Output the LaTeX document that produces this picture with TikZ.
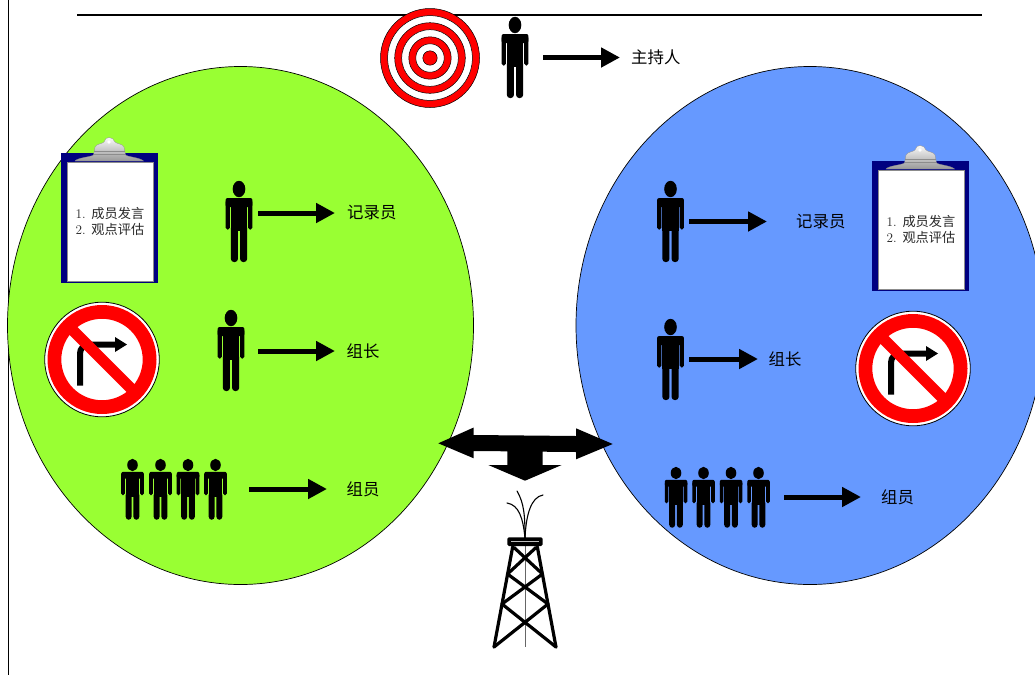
\documentclass[tikz,border=0pt]{standalone}
\usepackage{fontspec}
\newfontfamily\cjk{Noto Sans CJK SC}
\usetikzlibrary{arrows.meta,calc}
\definecolor{leafgreen}{HTML}{99FF33}
\definecolor{skyblue}{HTML}{6699FF}
\definecolor{boardnavy}{HTML}{000080}
\tikzset{
  x=1pt,y=-1pt,
  bigcircle/.style={draw=black,line width=.7pt},
  blockarrow/.style={draw=black,line width=5pt,-{Triangle[length=19pt,width=19pt]}},
  rolelabel/.style={font=\cjk\fontsize{16.4}{18}\selectfont,inner sep=0pt,anchor=west},
  boardtext/.style={font=\fontsize{13.2}{16}\selectfont,align=left,text=black!85,inner sep=0pt},
  holder/.style={inner sep=0pt,minimum height=20pt},
  person/.pic={
    \fill[black] (0,8) ellipse [x radius=6.3,y radius=8.2];
    \fill[black,rounded corners=2pt] (-13.4,17) rectangle (13.4,26);
    \fill[black,rounded corners=1.8pt] (-13.4,19) rectangle (-9.2,48.5);
    \fill[black,rounded corners=1.8pt] (9.2,19) rectangle (13.4,48.5);
    \fill[black] (-8.1,17) rectangle (8.1,50);
    \fill[black,rounded corners=3pt] (-8.1,44) rectangle (-1.1,81);
    \fill[black,rounded corners=3pt] (1.1,44) rectangle (8.1,81);
  },
  clipboard/.pic={
    \fill[boardnavy] (0,0) rectangle (97,130);
    \fill[white,draw=black!45,line width=.3pt] (6.5,9.5) rectangle (92.5,128);
    \shadedraw[top color=white,bottom color=black!40,draw=black!45,line width=.3pt]
      (14,8) .. controls (17,4.5) and (30,4) .. (32.5,2)
      -- (34,-6) .. controls (36,-9.5) and (41,-9) .. (43,-11)
      .. controls (44,-17) and (52,-17) .. (54,-11)
      .. controls (56,-9) and (61,-9.5) .. (63,-6)
      -- (64.5,2) .. controls (67,4) and (79,4.5) .. (82.5,8) -- cycle;
    \fill[white] (48,-11) circle (1.8);
    \fill[black!45] (33,-2.5) rectangle (64,-1);
    \fill[black!45] (33,1) rectangle (64,2.2);
  },
  nosign/.pic={
    \fill[white,draw=black,line width=.8pt] (0,0) circle (57.3);
    \fill[red,even odd rule] (0,0) circle (54.5) (0,0) circle (40.7);
    \draw[black,line width=6pt,rounded corners=9pt] (-22,26) -- (-22,-15) -- (14,-15);
    \fill[black] (13,-22.5) -- (25,-15) -- (13,-7.5) -- cycle;
    \draw[red,line width=11pt] (-33,-33) -- (33,33);
  },
}
\begin{document}
\begin{tikzpicture}
\useasboundingbox (0,0) rectangle (1035,675);
\clip (0,0) rectangle (1035,675);
% frame lines
\coordinate (vtop) at (8,0);
\coordinate (vbot) at (8,675);
\coordinate (htop) at (77,15);
\coordinate (hend) at (982,15);
\draw[black,line width=.7pt] (vtop) -- (vbot);
\draw[black,line width=1.1pt] (htop) -- (hend);
% discussion groups
\fill[leafgreen,bigcircle] (240.5,325.5) ellipse [x radius=233,y radius=259];
\fill[skyblue,bigcircle] (810,325.5) ellipse [x radius=234,y radius=259];
% target
\foreach \r/\c in {49.5/red,42.4/white,35.3/red,28.3/white,21.2/red,14.2/white,7.2/red}
  \fill[\c,draw=black,line width=.5pt] (430,58) circle (\r);
% host
\pic at (515,17) {person};
\node[holder,minimum width=56pt] (host) at (515,58) {};
\node[rolelabel] (hostlabel) at (631,57.5) {\cjk 主持人};
\draw[blockarrow,shorten >=11pt] (host.east |- hostlabel.west) -- (hostlabel.west);
% left group
\pic at (61,153) {clipboard};
\node[boardtext] (boardL) at (110,221) {1. {\cjk 成员发言}\\2. {\cjk 观点评估}};
\pic at (102,359.5) {nosign};
\pic at (239,181) {person};
\node[holder,minimum width=38pt] (recL) at (239,222) {};
\node[rolelabel] (recLlabel) at (347,213) {\cjk 记录员};
\draw[blockarrow,shorten >=12pt] (recL.east |- recLlabel.west) -- (recLlabel.west);
\pic at (231,310) {person};
\node[holder,minimum width=54pt] (leadL) at (231,351) {};
\node[rolelabel] (leadLlabel) at (346.5,351) {\cjk 组长};
\draw[blockarrow,shorten >=11.5pt] (leadL.east |- leadLlabel.west) -- (leadLlabel.west);
\foreach \x in {132.5,160.5,188,215.5}
  \pic[xscale=.84,yscale=.75] at (\x,459) {person};
\node[holder,minimum width=130pt] (teamL) at (184,489) {};
\node[rolelabel] (teamLlabel) at (346.5,489) {\cjk 组员};
\draw[blockarrow,shorten >=19.5pt] (teamL.east |- teamLlabel.west) -- (teamLlabel.west);
% right group
\pic at (872,161) {clipboard};
\node[boardtext] (boardR) at (921,229) {1. {\cjk 成员发言}\\2. {\cjk 观点评估}};
\pic at (913,368.5) {nosign};
\pic at (670.5,181) {person};
\node[holder,minimum width=37pt] (recR) at (670.5,222) {};
\node[rolelabel] (recRlabel) at (796,221.5) {\cjk 记录员};
\draw[blockarrow,shorten >=29pt] (recR.east |- recRlabel.west) -- (recRlabel.west);
\pic at (670.5,319) {person};
\node[holder,minimum width=37pt] (leadR) at (670.5,360) {};
\node[rolelabel] (leadRlabel) at (768.5,359) {\cjk 组长};
\draw[blockarrow,shorten >=10.5pt] (leadR.east |- leadRlabel.west) -- (leadRlabel.west);
\foreach \x in {676,703.5,731,758.5}
  \pic[xscale=.84,yscale=.75] at (\x,467) {person};
\node[holder,minimum width=168pt] (teamR) at (700,497) {};
\node[rolelabel] (teamRlabel) at (881,497) {\cjk 组员};
\draw[blockarrow,shorten >=20pt] (teamR.east |- teamRlabel.west) -- (teamRlabel.west);
% three-way block arrow
\fill[black] (438.3,443.3) -- (473.7,427.5) -- (473.7,435) -- (576,436) -- (576,428.3)
  -- (612.7,444) -- (576,459.3) -- (576,452) -- (542.7,451.7) -- (542.7,465) -- (561.7,465)
  -- (525,480.7) -- (488.3,465) -- (507.3,465) -- (507.3,451.3) -- (473.7,451) -- (473.7,458.3) -- cycle;
% oil derrick
\draw[black!60,line width=.8pt] (525,546) -- (525,647);
\begin{scope}[black,line width=3.2pt,line cap=round,line join=round]
  \draw (512.7,546.7) -- (494,647);
  \draw (537.3,546.7) -- (556,647);
  \draw (514,547.5) -- (542.5,574) -- (502,604) -- (556,647);
  \draw (536,547.5) -- (507.5,574) -- (548,604) -- (494,647);
\end{scope}
\fill[black,rounded corners=1.5pt] (507.3,537.3) rectangle (542.7,546);
\draw[white!75!black,line width=.5pt] (511,541.5) -- (539,541.5);
\begin{scope}[black,line width=1.1pt,line cap=round]
  \draw (525,538) .. controls (525,515) and (524,503) .. (517,491);
  \draw (525,538) .. controls (523,518) and (519,505) .. (507,503);
  \draw (525,538) .. controls (526,515) and (531,497) .. (543,495);
\end{scope}
\end{tikzpicture}
\end{document}
